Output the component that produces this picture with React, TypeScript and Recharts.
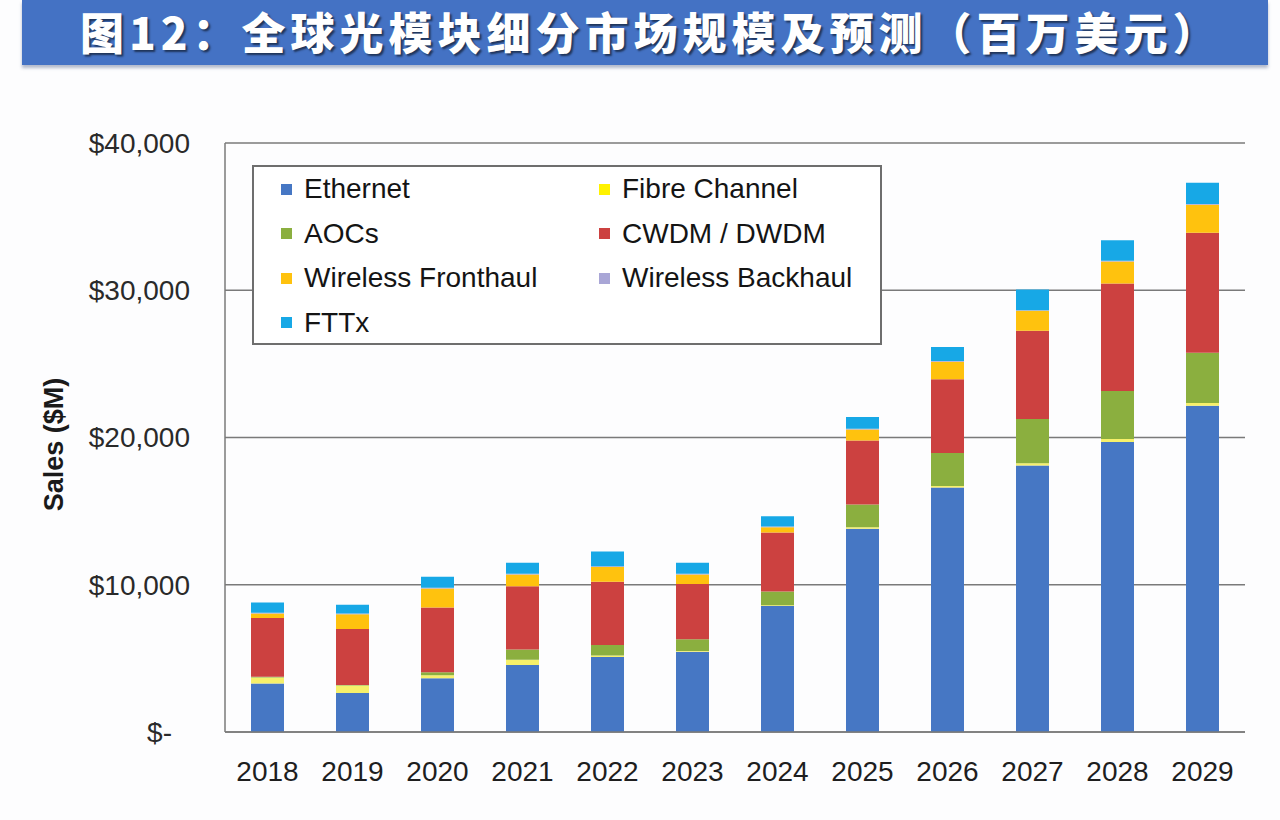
import React from 'react';
import { BarChart, Bar, XAxis, YAxis, CartesianGrid, Legend } from 'recharts';

// Global optical module market by segment, $M
const years = ['2018', '2019', '2020', '2021', '2022', '2023', '2024', '2025', '2026', '2027', '2028', '2029'];
const ethernet = [3300, 2650, 3650, 4550, 5100, 5450, 8550, 13800, 16600, 18100, 19700, 22150];
const fibreChannel = [400, 500, 200, 350, 100, 50, 50, 100, 100, 150, 200, 200];
const aocs = [50, 50, 200, 700, 700, 800, 950, 1550, 2250, 3000, 3250, 3400];
const cwdmDwdm = [4000, 3800, 4400, 4300, 4300, 3750, 4000, 4350, 5000, 6000, 7300, 8150];
const wirelessFronthaul = [300, 1000, 1300, 800, 1000, 650, 350, 750, 1200, 1350, 1500, 1900];
const wirelessBackhaul = [50, 50, 50, 50, 50, 50, 50, 50, 50, 50, 50, 50];
const fttx = [700, 600, 750, 750, 1000, 750, 700, 800, 950, 1400, 1400, 1450];
const yTicks = [0, 10000, 20000, 30000, 40000];

const series = [
  { key: 'ethernet', name: 'Ethernet', color: '#4677C4', values: ethernet },
  { key: 'fibre', name: 'Fibre Channel', color: '#F6F06A', legendColor: '#FFF200', values: fibreChannel },
  { key: 'aocs', name: 'AOCs', color: '#8BAF3F', values: aocs },
  { key: 'cwdm', name: 'CWDM / DWDM', color: '#CC4140', values: cwdmDwdm },
  { key: 'fronthaul', name: 'Wireless Fronthaul', color: '#FFC20E', values: wirelessFronthaul },
  { key: 'backhaul', name: 'Wireless Backhaul', color: '#A9A6D6', values: wirelessBackhaul },
  { key: 'fttx', name: 'FTTx', color: '#17A8E6', values: fttx },
];

const data = years.map((year, i) => {
  const row: Record<string, string | number> = { year };
  series.forEach((s) => {
    row[s.key] = s.values[i];
  });
  return row;
});

const FONT = '"Liberation Sans", Arial, sans-serif';

const YTick = (props: any) => {
  const { x, y, payload } = props;
  const v = payload.value as number;
  const label = v === 0 ? '$-' : '$' + v.toLocaleString('en-US');
  return (
    <text x={v === 0 ? x - 18 : x} y={y} dy="0.355em" textAnchor="end" fontSize={28} fill="#2a2a2a" fontFamily={FONT}>
      {label}
    </text>
  );
};

const LegendBox = () => (
  <div
    style={{
      boxSizing: 'border-box',
      width: 630,
      height: 180,
      border: '2px solid #6e6e6e',
      background: '#fff',
      display: 'grid',
      gridTemplateColumns: '318px 1fr',
      gridAutoRows: '44.5px',
      paddingLeft: 27,
      paddingTop: 0,
      fontFamily: FONT,
      fontSize: 28,
      color: '#141414',
    }}
  >
    {series.map((s) => (
      <div key={s.key} style={{ display: 'flex', alignItems: 'center', whiteSpace: 'nowrap' }}>
        <span
          style={{
            display: 'inline-block',
            width: 11,
            height: 11,
            background: s.legendColor || s.color,
            marginRight: 12,
          }}
        />
        <span>{s.name}</span>
      </div>
    ))}
  </div>
);

export default function App() {
  return (
    <div style={{ position: 'absolute', left: 0, top: 0, width: 1280, height: 820, background: '#fdfdfe', overflow: 'hidden' }}>
      <div style={{ position: 'absolute', left: 0, top: 0 }}>
        <BarChart
          width={1280}
          height={820}
          data={data}
          margin={{ top: 143, right: 35, bottom: 0, left: 0 }}
        >
          <CartesianGrid vertical={false} stroke="#7a7a7a" strokeWidth={1.5} />
          <XAxis
            dataKey="year"
            height={88}
            tickLine={false}
            tickSize={0}
            tickMargin={29}
            axisLine={{ stroke: '#7a7a7a', strokeWidth: 1.5 }}
            tick={{ fontSize: 28, fill: '#1e1e1e', fontFamily: FONT }}
            interval={0}
          />
          <YAxis
            width={225}
            domain={[0, 40000]}
            ticks={yTicks}
            tickLine={false}
            tickSize={0}
            tickMargin={35}
            axisLine={{ stroke: '#7a7a7a', strokeWidth: 1.5 }}
            tick={<YTick />}
            label={{
              content: (p: any) => {
                const vb = p.viewBox || { x: 0, y: 143, height: 589 };
                const cx = vb.x + 54;
                const cy = vb.y + vb.height / 2 + 7;
                return (
                  <text
                    x={cx}
                    y={cy}
                    transform={`rotate(-90 ${cx} ${cy})`}
                    textAnchor="middle"
                    dominantBaseline="central"
                    fontSize={27}
                    fontWeight="bold"
                    fill="#1a1a1a"
                    fontFamily={FONT}
                  >
                    Sales ($M)
                  </text>
                );
              },
            }}
          />
          <Legend
            layout="vertical"
            align="center"
            verticalAlign="middle"
            content={<LegendBox />}
            wrapperStyle={{ left: 252, top: 165, width: 630, height: 180 }}
          />
          {series.map((s) => (
            <Bar
              key={s.key}
              dataKey={s.key}
              name={s.name}
              stackId="total"
              fill={s.color}
              barSize={33}
              isAnimationActive={false}
            />
          ))}
        </BarChart>
      </div>
      <div
        style={{
          position: 'absolute',
          left: 22,
          top: 0,
          width: 1246,
          height: 65,
          background: '#4472C4',
          boxShadow: '0 3px 3px rgba(40,60,110,0.35)',
        }}
      >
        <div
          style={{
            position: 'absolute',
            left: 58,
            top: 0,
            height: 65,
            lineHeight: '62px',
            whiteSpace: 'nowrap',
            fontFamily: '"Noto Sans CJK SC", sans-serif',
            fontWeight: 900,
            fontSize: 44,
            letterSpacing: 5,
            color: '#ffffff',
            textShadow: '2px 2px 2px rgba(0,0,0,0.55)',
          }}
        >
          图12：全球光模块细分市场规模及预测（百万美元）
        </div>
      </div>
    </div>
  );
}
